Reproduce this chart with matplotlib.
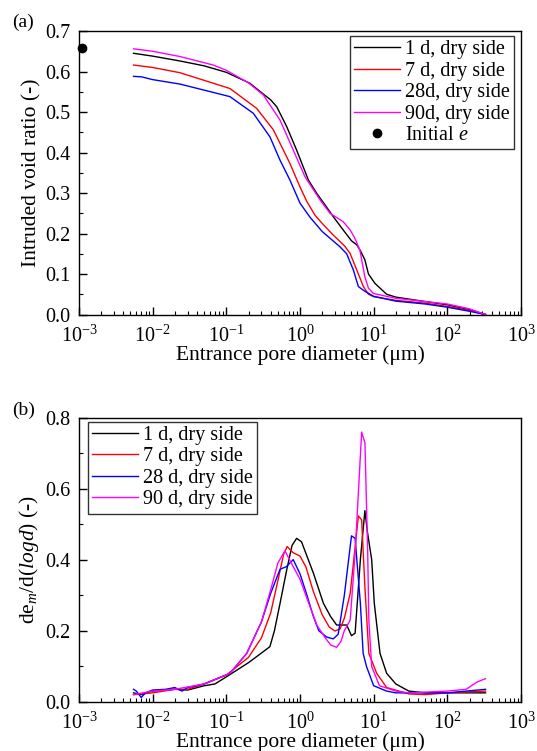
import numpy as np
import matplotlib
matplotlib.use('Agg')
from matplotlib import pyplot as plt
from matplotlib.ticker import FixedLocator, MultipleLocator, NullFormatter, FormatStrFormatter

plt.rcParams['font.family'] = ['Liberation Serif', 'DejaVu Serif']
plt.rcParams['mathtext.fontset'] = 'custom'
plt.rcParams['mathtext.rm'] = 'Liberation Serif'
plt.rcParams['mathtext.it'] = 'Liberation Serif:italic'

# ---- panel (a): cumulative intruded void ratio ----
xa_1d = [5.5e-3, 0.01, 0.0235, 0.05, 0.1, 0.209, 0.3, 0.4, 0.483, 0.66, 0.9, 1.3, 1.69, 2.2, 2.83, 4, 5.0, 5.9, 6.5, 7.6, 8.5, 10.4, 15, 20, 50, 100, 200, 330]
ya_1d = [0.645, 0.638, 0.626, 0.614, 0.598, 0.571, 0.548, 0.53, 0.513, 0.464, 0.406, 0.332, 0.299, 0.27, 0.2415, 0.205, 0.182, 0.172, 0.16, 0.135, 0.1, 0.077, 0.05, 0.043, 0.032, 0.024, 0.012, 0.0]
xa_7d = [5.5e-3, 0.01, 0.0235, 0.112, 0.258, 0.435, 0.73, 1.0, 1.23, 1.6, 2.0, 2.83, 4.0, 4.78, 5.9, 7.25, 8.5, 10, 20, 50, 100, 200, 330]
ya_7d = [0.616, 0.61, 0.597, 0.558, 0.509, 0.456, 0.373, 0.315, 0.28, 0.245, 0.225, 0.196, 0.17, 0.151, 0.11, 0.069, 0.05, 0.044, 0.035, 0.028, 0.02, 0.01, 0.0]
xa_28d = [5.5e-3, 0.007, 0.01, 0.0235, 0.112, 0.232, 0.39, 0.536, 0.73, 1.0, 1.37, 2.0, 3.5, 4.3, 5.3, 6.2, 7.5, 10, 20, 50, 100, 200, 330]
ya_28d = [0.588, 0.587, 0.58, 0.569, 0.538, 0.497, 0.439, 0.381, 0.332, 0.275, 0.24, 0.205, 0.167, 0.15, 0.11, 0.069, 0.058, 0.045, 0.033, 0.026, 0.018, 0.008, 0.0]
xa_90d = [5.5e-3, 0.01, 0.0235, 0.0665, 0.1, 0.2, 0.318, 0.536, 0.81, 1.17, 1.87, 2.55, 3.87, 4.78, 5.5, 6.5, 7.6, 8.5, 9.9, 20, 50, 100, 200, 330]
ya_90d = [0.656, 0.65, 0.637, 0.616, 0.603, 0.572, 0.542, 0.48, 0.406, 0.34, 0.283, 0.25, 0.229, 0.209, 0.19, 0.159, 0.093, 0.065, 0.052, 0.04, 0.032, 0.026, 0.014, 0.0]
init_x = [1.09e-3]
init_e = [0.658]

# ---- panel (b): pore size density ----
xb_1d = [5.5e-3, 0.007, 0.01, 0.02, 0.03, 0.05, 0.07, 0.1, 0.2, 0.258, 0.39, 0.45, 0.536, 0.66, 0.78, 0.9, 1.05, 1.52, 2.08, 2.6, 3.14, 4.3, 5.0, 5.6, 6.6, 7.6, 8.2, 9.4, 10.2, 12.2, 15, 20, 30, 50, 100, 330]
yb_1d = [0.025, 0.02, 0.03, 0.035, 0.033, 0.045, 0.05, 0.07, 0.11, 0.127, 0.155, 0.2, 0.277, 0.371, 0.44, 0.46, 0.45, 0.362, 0.277, 0.24, 0.216, 0.216, 0.186, 0.193, 0.40, 0.538, 0.48, 0.40, 0.277, 0.136, 0.08, 0.05, 0.03, 0.025, 0.025, 0.025]
xb_7d = [5.5e-3, 0.01, 0.02, 0.03, 0.05, 0.1, 0.2, 0.3, 0.4, 0.5, 0.6, 0.67, 0.8, 1.0, 1.2, 1.52, 2.0, 2.5, 2.98, 3.5, 4.0, 4.8, 5.5, 6.2, 6.87, 7.6, 8.6, 11, 15, 30, 50, 100, 330]
yb_7d = [0.02, 0.025, 0.035, 0.035, 0.05, 0.075, 0.125, 0.18, 0.25, 0.34, 0.415, 0.437, 0.42, 0.41, 0.38, 0.31, 0.245, 0.21, 0.199, 0.205, 0.235, 0.305, 0.42, 0.523, 0.512, 0.324, 0.136, 0.08, 0.04, 0.022, 0.02, 0.025, 0.03]
xb_28d = [5.5e-3, 0.006, 0.007, 0.008, 0.01, 0.015, 0.02, 0.025, 0.03, 0.05, 0.112, 0.189, 0.3, 0.4, 0.536, 0.65, 0.81, 1.0, 1.2, 1.52, 1.8, 2.3, 2.83, 3.3, 4.0, 5.0, 5.6, 6.6, 7.2, 8.0, 10, 15, 20, 50, 100, 330]
yb_28d = [0.035, 0.03, 0.012, 0.025, 0.033, 0.035, 0.04, 0.03, 0.04, 0.05, 0.08, 0.136, 0.225, 0.305, 0.373, 0.38, 0.40, 0.36, 0.31, 0.24, 0.2, 0.182, 0.177, 0.19, 0.3, 0.467, 0.46, 0.277, 0.136, 0.099, 0.045, 0.03, 0.025, 0.025, 0.025, 0.035]
xb_90d = [5.5e-3, 0.01, 0.02, 0.05, 0.112, 0.189, 0.3, 0.4, 0.5, 0.625, 0.7, 0.855, 1.0, 1.3, 1.7, 2.2, 2.6, 3.14, 3.6, 4.0, 4.8, 5.6, 6.87, 7.62, 8.3, 8.6, 9.4, 12, 20, 30, 100, 180, 250, 330]
yb_90d = [0.02, 0.03, 0.035, 0.05, 0.08, 0.136, 0.225, 0.315, 0.39, 0.425, 0.405, 0.371, 0.345, 0.28, 0.215, 0.18, 0.16, 0.153, 0.17, 0.2, 0.23, 0.418, 0.759, 0.728, 0.418, 0.23, 0.099, 0.045, 0.03, 0.025, 0.03, 0.035, 0.055, 0.065]

colors = ['black', 'red', 'blue', 'magenta']
labels_a = ['1 d, dry side', '7 d, dry side', '28d, dry side', '90d, dry side']
labels_b = ['1 d, dry side', '7 d, dry side', '28 d, dry side', '90 d, dry side']
decades = np.arange(-3, 4)


def style_axis(ax, ymax, ymajor, yminor):
    ax.set_xscale('log')
    ax.set_xlim(1e-3, 1e3)
    ax.set_ylim(0, ymax)
    ax.xaxis.set_major_locator(FixedLocator(10.0 ** decades))
    minors = [m * 10.0 ** d for d in decades[:-1] for m in range(2, 10)]
    ax.xaxis.set_minor_locator(FixedLocator(minors))
    ax.xaxis.set_minor_formatter(NullFormatter())
    ax.yaxis.set_major_locator(MultipleLocator(ymajor))
    ax.yaxis.set_minor_locator(MultipleLocator(yminor))
    ax.yaxis.set_major_formatter(FormatStrFormatter('%.1f'))
    ax.tick_params(which='both', direction='in', top=False, right=False, labelsize=14.5)
    ax.tick_params(which='major', length=6, width=1)
    ax.tick_params(which='minor', length=3, width=0.8)
    ax.tick_params(axis='x', which='major', pad=8)
    ax.tick_params(axis='y', which='major', pad=6)
    for s in ax.spines.values():
        s.set_linewidth(1.0)
    ax.set_xlabel('Entrance pore diameter (\u03bcm)', fontsize=15.5, labelpad=-1)


def add_legend(ax, loc, anchor):
    leg = ax.legend(loc=loc, bbox_to_anchor=anchor, fontsize=14.5, frameon=True,
                    fancybox=False, edgecolor='black', handlelength=2.3,
                    handletextpad=0.25, borderaxespad=0, labelspacing=0.12,
                    borderpad=0.2)
    leg.get_frame().set_linewidth(1.0)
    return leg


fig = plt.figure(figsize=(5.37, 7.51), dpi=100)
ax1 = fig.add_axes([0.1471, 0.5812, 0.8231, 0.3775])
ax2 = fig.add_axes([0.1471, 0.0656, 0.8231, 0.3784])

seriesA = [(xa_1d, ya_1d), (xa_7d, ya_7d), (xa_28d, ya_28d), (xa_90d, ya_90d)]
for (x, y), c, lab in zip(seriesA, colors, labels_a):
    ax1.plot(x, y, color=c, lw=1.0, label=lab)
ax1.plot(init_x, init_e, 'o', color='black', ms=6, clip_on=False, label='Initial $e$')
style_axis(ax1, 0.7, 0.1, 0.05)
ax1.set_ylabel('Intruded void ratio (-)', fontsize=15.5, labelpad=3)
add_legend(ax1, 'upper right', (0.984, 0.982))
fig.text(0.022, 0.964, '(a)', fontsize=14)

seriesB = [(xb_1d, yb_1d), (xb_7d, yb_7d), (xb_28d, yb_28d), (xb_90d, yb_90d)]
for (x, y), c, lab in zip(seriesB, colors, labels_b):
    ax2.plot(x, y, color=c, lw=1.0, label=lab)
style_axis(ax2, 0.8, 0.2, 0.1)
ax2.set_ylabel('de$_{m}$/d($\\mathit{logd}$) (-)', fontsize=15.5, labelpad=3)
add_legend(ax2, 'upper left', (0.02, 0.985))
fig.text(0.022, 0.448, '(b)', fontsize=14)

fig.savefig('out.png', dpi=100)
